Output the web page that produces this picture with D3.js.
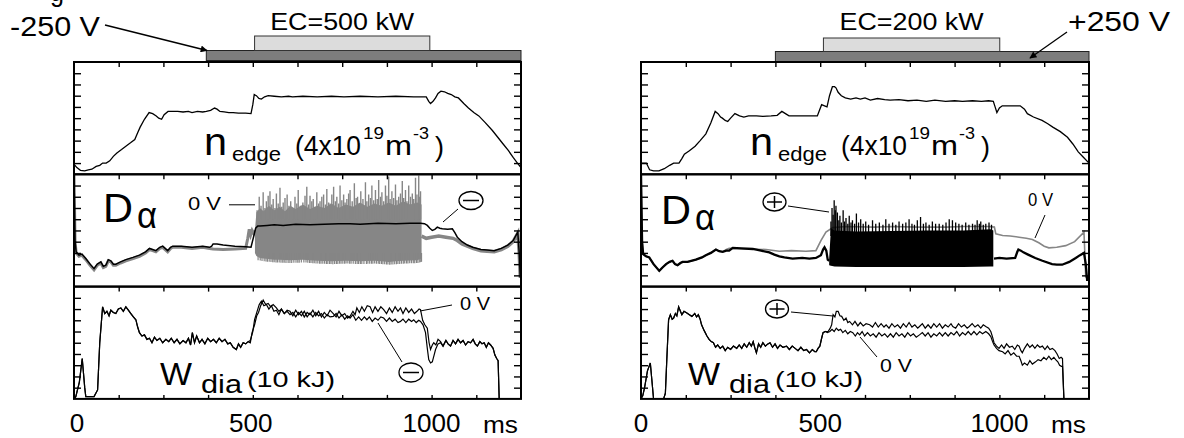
<!DOCTYPE html>
<html><head><meta charset="utf-8">
<script src="https://cdn.jsdelivr.net/npm/d3@7"></script>
<style>
body{margin:0;background:#fff;}
svg{display:block;}
text{font-family:"Liberation Sans",Arial,Helvetica,sans-serif;fill:#000;}
</style>
</head><body>
<svg id="c" width="1184" height="438"></svg>
<script>
// ---------------- DATA (time in ms, value in panel units 0..10) ----------------
const timeTickLabels = [0, 500, 1000];
const ecLabels = ["EC=500 kW", "EC=200 kW"];
const biasLabels = ["-250 V", "+250 V"];
const ecWindowLeft = [505, 995];
const ecWindowRight = [509, 1001];
const biasStartLeft = 370;
const biasStartRight = 375;

const nEdgeLeft = [[0,0.9],[8,0.6],[18,0.35],[30,0.3],[40,0.4],[50,0.45],[62,0.7],[72,0.8],[80,1.0],[90,1.0],[100,1.2],[110,1.6],[120,1.9],[133,2.2],[145,2.5],[158,2.8],[170,3.1],[178,3.7],[185,4.2],[197,4.9],[210,5.5],[220,5.4],[230,5.2],[237,5.0],[245,4.9],[252,5.3],[263,5.6],[276,5.6],[290,5.6],[305,5.55],[320,5.6],[330,5.5],[345,5.6],[360,5.55],[370,5.6],[382,5.7],[393,5.9],[400,5.8],[408,5.6],[420,5.55],[433,5.5],[445,5.5],[460,5.45],[480,5.45],[495,5.4],[500,6.2],[504,7.1],[510,7.0],[517,6.75],[524,6.7],[533,6.9],[543,7.0],[560,6.95],[580,6.9],[600,6.95],[611,6.9],[640,6.95],[680,6.9],[720,6.95],[755,6.9],[800,6.95],[850,6.9],[900,6.95],[950,6.9],[985,6.9],[992,6.5],[997,6.3],[1004,6.5],[1011,6.8],[1018,7.2],[1026,7.4],[1036,7.35],[1045,7.2],[1055,7.1],[1065,6.9],[1075,6.8],[1090,6.3],[1103,5.9],[1118,5.5],[1132,5.2],[1150,4.6],[1170,3.9],[1185,3.3],[1200,2.7],[1215,2.1],[1228,1.5],[1240,1.0],[1250,0.6]];

const nEdgeRight = [[0,1.0],[15,1.0],[24,0.4],[35,0.3],[50,0.3],[65,0.5],[80,0.8],[91,1.0],[106,1.0],[114,1.4],[121,1.8],[135,2.1],[151,2.5],[165,3.0],[181,3.6],[195,4.6],[207,5.6],[215,5.4],[222,5.1],[227,5.0],[235,4.8],[242,4.7],[250,5.0],[262,5.4],[275,5.2],[287,5.1],[300,5.2],[322,5.2],[340,5.15],[363,5.2],[380,5.25],[393,5.6],[403,5.4],[413,5.2],[440,5.2],[470,5.2],[492,5.2],[498,5.7],[504,6.2],[512,6.1],[519,6.0],[526,7.0],[534,7.8],[540,7.8],[544,7.7],[550,7.3],[559,7.0],[570,6.8],[585,6.7],[600,6.8],[612,6.7],[625,6.8],[640,6.6],[660,6.75],[680,6.65],[695,6.6],[720,6.65],[745,6.55],[770,6.6],[796,6.5],[820,6.6],[850,6.5],[875,6.55],[897,6.5],[925,6.55],[950,6.5],[970,6.55],[983,6.5],[988,6.0],[993,5.5],[1000,5.9],[1008,6.1],[1030,6.1],[1058,6.1],[1070,5.8],[1078,5.4],[1095,5.1],[1119,4.8],[1135,4.5],[1149,4.2],[1170,3.8],[1190,3.3],[1205,2.7],[1220,2.0],[1235,1.5],[1250,1.0]];

// D-alpha, left (black = -250 V, gray = 0 V)
const dAlphaLeftBias = [[0,10],[3,4],[6,3.1],[14,2.8],[22,2.9],[33,2.5],[45,2.0],[56,1.6],[65,2.0],[75,2.2],[82,1.8],[89,1.9],[96,2.4],[103,2.3],[110,2.0],[117,2.0],[130,2.2],[145,2.4],[165,2.6],[183,2.8],[200,3.1],[211,3.4],[220,3.3],[229,3.2],[240,3.5],[248,3.6],[255,3.4],[262,3.2],[270,3.5],[276,3.6],[300,3.6],[330,3.5],[360,3.6],[379,3.5],[385,3.6],[389,3.8],[400,3.8],[417,3.7],[450,3.6],[480,3.55],[495,3.5],[502,4.4],[508,5.2],[514,5.4],[520,5.4],[540,5.45],[560,5.5],[585,5.45],[620,5.55],[660,5.5],[700,5.55],[740,5.6],[772,5.6],[800,5.55],[850,5.65],[900,5.6],[940,5.65],[969,5.65],[980,5.6],[988,5.45],[995,5.2],[1002,5.0],[1009,5.1],[1016,5.3],[1023,5.2],[1030,5.15],[1045,5.1],[1058,5.15],[1065,4.8],[1072,4.4],[1085,4.0],[1100,3.7],[1115,3.5],[1138,3.3],[1155,3.25],[1175,3.2],[1195,3.4],[1213,3.7],[1228,4.1],[1241,4.85],[1245,3.0],[1248,0.8]];
const dAlphaLeftZeroPre = [[0,10],[3,4],[6,3.0],[14,2.7],[22,2.8],[33,2.4],[45,1.9],[56,1.5],[65,1.9],[75,2.1],[82,1.7],[89,1.8],[96,2.3],[103,2.2],[110,1.9],[117,1.9],[130,2.1],[145,2.3],[165,2.5],[183,2.7],[200,3.0],[211,3.3],[220,3.2],[229,3.1],[240,3.4],[248,3.5],[255,3.3],[262,3.1],[270,3.4],[276,3.5],[300,3.5],[330,3.4],[360,3.5],[379,3.4],[389,3.35],[417,3.3],[450,3.35],[480,3.4],[486,4.3],[490,5.1],[494,4.6],[498,5.0],[503,4.7],[508,5.0]];
const dAlphaLeftZeroPost = [[972,4.5],[985,4.3],[1000,4.4],[1020,4.5],[1040,4.4],[1060,4.3],[1072,4.1],[1085,3.8],[1100,3.6],[1115,3.4],[1138,3.2],[1155,3.15],[1175,3.1],[1195,3.3],[1213,3.6],[1228,4.0],[1241,4.75],[1245,3.0],[1248,0.8]];
const dAlphaLeftBurstLow = [[506,3.0],[512,2.6],[530,2.5],[560,2.4],[600,2.35],[640,2.4],[680,2.3],[720,2.25],[760,2.3],[800,2.25],[840,2.3],[880,2.2],[920,2.3],[960,2.35],[972,2.5]];
const dAlphaLeftBurstHigh = [[506,5.0],[510,6.6],[520,7.0],[530,6.7],[545,7.2],[560,6.8],[575,7.1],[590,6.7],[605,7.2],[620,6.9],[640,7.3],[660,6.9],[680,7.2],[700,7.0],[720,7.4],[740,7.0],[760,7.3],[780,7.1],[800,7.5],[820,7.1],[840,7.4],[860,7.2],[880,7.5],[900,7.2],[920,7.6],[940,7.3],[960,7.5],[972,7.3]];
const dAlphaLeftSpikes = [[512,6.8],[518,8.0],[523,7.2],[529,8.4],[534,7.0],[538,7.6],[543,8.1],[548,8.5],[553,7.3],[557,7.8],[562,7.0],[566,8.3],[571,7.4],[576,8.8],[581,7.1],[585,7.5],[590,7.9],[596,8.2],[601,7.2],[606,7.6],[612,7.0],[618,8.0],[623,7.4],[627,8.6],[633,7.2],[640,7.5],[646,8.1],[651,8.9],[656,7.3],[660,8.1],[665,7.6],[669,7.8],[674,7.1],[679,8.4],[684,7.4],[688,7.6],[693,8.0],[698,8.2],[703,7.3],[707,8.7],[712,7.5],[716,7.4],[721,8.2],[726,8.9],[731,7.6],[735,8.0],[740,7.4],[744,9.0],[749,7.7],[754,8.2],[758,7.5],[763,7.8],[768,8.3],[772,8.6],[778,7.6],[784,9.2],[789,7.9],[793,8.0],[798,7.4],[802,8.5],[808,7.8],[815,9.3],[819,7.6],[824,8.2],[829,7.9],[833,9.0],[838,7.7],[843,8.6],[848,7.8],[852,9.5],[857,8.0],[861,8.4],[866,7.6],[871,9.0],[875,8.1],[880,9.8],[884,7.8],[889,8.5],[894,7.9],[899,9.1],[903,7.7],[908,8.0],[913,8.3],[918,9.4],[922,7.9],[927,8.6],[931,7.6],[936,9.0],[941,8.0],[946,8.3],[950,7.8],[955,9.7],[959,8.2],[964,9.9],[967,8.0],[969,8.5]];

// D-alpha, right (black = +250 V, gray = 0 V)
const dAlphaRightZero = [[0,10],[3,4],[6,2.9],[14,2.7],[23,2.6],[35,2.0],[51,1.4],[60,1.7],[70,2.0],[80,2.2],[88,2.3],[95,2.0],[102,1.9],[110,2.1],[116,2.2],[130,2.2],[153,2.4],[170,2.6],[181,2.8],[195,3.0],[209,3.3],[218,3.15],[228,3.1],[238,3.3],[246,3.4],[256,3.4],[300,3.35],[349,3.3],[386,3.15],[420,3.2],[460,3.15],[488,3.2],[502,4.1],[516,4.85],[535,5.25],[572,5.35],[650,5.3],[700,5.35],[776,5.3],[850,5.3],[900,5.35],[972,5.35],[986,5.3],[990,4.7],[1009,4.55],[1030,4.5],[1055,4.4],[1075,4.3],[1092,4.2],[1110,3.9],[1125,3.6],[1138,3.45],[1160,3.5],[1185,3.65],[1210,4.0],[1236,4.85],[1241,0.8]];
const dAlphaRightBiasPre = [[0,10],[3,4],[6,2.9],[14,2.7],[23,2.6],[35,2.0],[51,1.4],[60,1.7],[70,2.0],[80,2.2],[88,2.3],[95,2.0],[102,1.9],[110,2.1],[116,2.2],[130,2.2],[153,2.4],[170,2.6],[181,2.8],[195,3.0],[209,3.3],[218,3.15],[228,3.1],[238,3.2],[246,3.2],[256,3.45],[280,3.4],[312,3.35],[335,3.2],[358,3.05],[372,2.85],[386,2.7],[400,2.6],[423,2.5],[450,2.55],[470,2.5],[488,2.55],[502,2.8],[508,3.3],[512,3.5],[517,3.2],[521,2.4],[525,2.3]];
const dAlphaRightBiasPost = [[985,2.5],[1000,2.55],[1020,2.5],[1044,2.55],[1050,3.1],[1053,3.3],[1060,3.2],[1067,3.05],[1080,2.85],[1100,2.55],[1120,2.3],[1147,2.0],[1160,1.95],[1175,1.95],[1195,2.2],[1213,2.55],[1225,2.8],[1236,3.0],[1241,2.0],[1245,0.5]];
const dAlphaRightBurstLow = [[525,1.9],[540,1.8],[600,1.75],[700,1.75],[800,1.75],[900,1.75],[983,1.8]];
const dAlphaRightBurstHigh = [[525,2.5],[530,5.2],[540,5.0],[600,4.9],[700,4.95],[800,5.0],[900,5.0],[975,5.1],[983,5.0]];
const dAlphaRightSpikes = [[530,5.8],[533,7.0],[536,6.4],[539,7.7],[542,6.8],[544,7.2],[548,6.6],[552,5.9],[555,6.3],[559,5.7],[564,6.8],[568,5.8],[572,6.1],[577,5.6],[581,6.3],[586,5.7],[590,5.9],[596,5.6],[601,6.5],[607,5.7],[613,6.0],[620,5.6],[627,5.8],[635,5.5],[646,5.9],[655,5.6],[665,5.7],[675,5.5],[683,6.0],[692,5.6],[702,5.7],[711,5.5],[720,5.8],[730,5.6],[739,5.7],[748,6.0],[756,5.6],[763,5.5],[771,5.9],[780,6.2],[788,5.6],[795,5.7],[804,5.5],[813,5.8],[822,5.6],[832,5.6],[842,5.5],[851,5.7],[860,6.0],[869,5.9],[878,5.7],[887,5.6],[896,5.5],[906,5.7],[915,5.5],[925,5.6],[932,5.5],[938,5.9],[944,5.6],[948,5.8],[955,5.5],[962,5.6],[971,5.7],[978,5.5]];

// W_dia, left
const wDiaLeftEarly = [[0,0],[5,0.2],[15,1.5],[23,3.6],[30,1.0],[33,0.2],[56,0.2],[66,0.8],[72,5],[80,8.2],[86,7.6],[92,7.8],[98,7.4],[103,7.9],[110,7.7],[117,7.6],[124,8.0],[131,8.1],[138,7.8],[145,8.2],[152,7.9],[159,7.6],[166,7.3],[173,7.05],[178,6.4],[183,5.9],[190,5.6],[197,5.7],[204,5.3],[211,5.4],[218,5.0],[225,5.5],[232,5.2],[240,5.4],[248,5.0],[257,5.3],[265,5.1],[272,5.4],[280,5.0],[288,5.3],[296,4.9],[305,5.2],[313,5.0],[320,5.4],[326,4.8],[331,5.9],[337,5.0],[343,5.6],[351,5.0],[358,5.3],[366,4.9],[374,5.4],[382,5.1],[390,5.3],[398,5.0],[406,5.4],[414,5.1],[422,5.3],[430,4.9],[437,5.0],[445,4.6],[454,4.4],[460,4.9],[466,4.6],[473,5.0],[480,4.9],[487,5.1]];
const wDiaLeftZeroMid = [[493,5.2],[500,6.0],[505,7.05],[512,7.8],[518,8.4],[524,8.7],[531,8.3],[538,8.4],[545,8.0],[552,8.3],[559,7.8],[566,7.9],[573,7.5],[580,8.0],[588,7.6],[596,7.9],[604,7.8],[612,7.4],[620,7.9],[628,7.5],[636,7.8],[644,7.3],[652,7.7],[660,7.5],[668,7.9],[676,7.4],[684,7.8],[692,7.3],[700,7.7],[708,7.4],[716,7.9],[725,7.6],[733,7.3],[741,7.8],[749,7.4],[757,7.6],[765,7.2],[772,7.35],[780,7.8],[786,7.5],[791,8.1],[798,7.7],[805,8.2],[812,7.8],[820,8.3],[828,8.2],[835,7.7],[842,8.2],[850,7.8],[858,8.2],[866,7.95],[874,7.6],[882,8.1],[890,7.7],[898,8.2],[906,7.8],[913,8.1],[920,7.6],[928,8.1],[936,7.7],[944,8.0],[952,7.6],[959,7.8],[965,8.0],[969,7.95],[975,7.0],[981,6.6],[988,6.3],[993,5.0],[997,4.4],[1002,4.8],[1006,5.0],[1012,4.8],[1018,5.3],[1025,5.1]];
const wDiaLeftBiasMid = [[493,5.0],[498,5.9],[505,6.6],[511,7.4],[516,7.7],[522,8.3],[529,8.8],[536,8.4],[543,8.5],[550,8.2],[557,8.4],[566,8.1],[573,7.8],[580,8.0],[588,7.6],[596,7.8],[604,7.5],[612,7.7],[620,7.3],[628,7.7],[636,7.4],[644,7.8],[652,7.3],[660,7.65],[668,7.3],[676,7.7],[684,7.4],[692,7.6],[700,7.2],[708,7.5],[716,7.3],[725,7.35],[733,7.6],[741,7.2],[749,7.5],[757,7.1],[765,7.4],[772,7.2],[780,7.5],[788,7.0],[796,7.3],[804,7.0],[812,7.3],[819,7.05],[826,7.3],[834,6.9],[842,7.2],[850,7.0],[858,7.3],[866,7.2],[874,6.9],[882,7.2],[890,6.9],[898,7.1],[906,6.8],[913,6.9],[920,7.1],[928,6.8],[936,7.1],[944,6.9],[950,7.05],[957,6.8],[964,7.0],[969,6.9],[976,6.6],[983,5.9],[988,4.5],[992,3.5],[997,3.2],[1002,3.3],[1007,3.9],[1011,4.4],[1018,4.9],[1025,5.0]];
const wDiaLeftLate = [[1032,4.7],[1040,5.2],[1046,4.9],[1053,4.7],[1060,5.2],[1067,4.9],[1074,5.3],[1081,5.0],[1088,5.2],[1095,4.8],[1102,5.1],[1109,5.0],[1116,5.3],[1122,4.9],[1128,4.7],[1135,5.1],[1141,4.9],[1147,5.0],[1153,4.6],[1159,5.0],[1165,4.8],[1172,4.5],[1177,3.9],[1182,3.6],[1186,3.4],[1189,0]];

// W_dia, right
const wDiaRightEarly = [[0,0],[5,0.3],[10,1.0],[18,2.5],[26,3.2],[30,1.8],[35,0],[63,0],[68,0.5],[72,3.5],[77,7.05],[82,7.5],[87,7.1],[91,7.2],[96,7.6],[100,7.4],[105,8.2],[110,7.8],[114,7.5],[120,7.8],[128,7.65],[135,7.5],[142,7.35],[150,7.6],[155,7.3],[160,7.5],[165,7.1],[169,6.6],[176,6.1],[184,5.6],[190,5.3],[196,5.1],[202,5.0],[208,4.6],[214,4.8],[221,4.5],[228,4.7],[235,4.3],[242,4.6],[250,4.4],[258,4.7],[267,4.5],[274,4.8],[281,4.5],[288,4.9],[295,4.6],[302,5.0],[308,4.7],[313,5.1],[318,4.5],[322,4.1],[328,4.9],[334,4.6],[340,5.0],[347,4.7],[354,4.9],[360,5.0],[367,4.6],[374,4.9],[381,4.5],[388,4.8],[396,4.6],[406,4.7],[414,4.4],[422,4.7],[430,4.5],[438,4.3],[446,4.6],[454,4.3],[462,4.4],[470,4.1],[478,4.4],[485,4.2],[489,4.2],[494,4.5],[499,4.7],[504,5.4],[508,5.9]];
const wDiaRightBias = [[514,6.0],[522,6.0],[528,6.3],[532,6.6],[536,7.5],[541,7.3],[545,7.8],[550,7.8],[555,7.4],[560,7.35],[566,7.0],[572,7.2],[577,6.8],[582,6.9],[590,6.6],[597,6.9],[605,6.5],[612,6.8],[620,6.5],[628,6.7],[638,6.6],[646,6.4],[654,6.8],[662,6.4],[670,6.7],[678,6.4],[684,6.6],[692,6.3],[700,6.7],[708,6.4],[716,6.6],[724,6.3],[732,6.7],[740,6.4],[748,6.8],[756,6.4],[764,6.6],[772,6.3],[777,6.45],[785,6.7],[793,6.3],[801,6.6],[809,6.3],[817,6.7],[825,6.4],[833,6.7],[841,6.3],[849,6.6],[857,6.4],[865,6.7],[870,6.45],[878,6.3],[886,6.7],[894,6.4],[902,6.6],[910,6.3],[916,6.45],[924,6.7],[932,6.4],[940,6.6],[948,6.3],[955,6.6],[962,6.45],[970,6.3],[976,6.0],[981,5.5],[985,5.0],[992,4.7],[999,4.5],[1006,4.8],[1013,4.5],[1020,4.9],[1028,4.6],[1036,4.7],[1043,4.4],[1050,4.8],[1055,4.7],[1060,4.3],[1064,4.1],[1070,4.5],[1078,4.9],[1085,4.6],[1092,4.8],[1099,4.5],[1106,4.8],[1113,4.6],[1120,4.7],[1127,4.4],[1134,4.7],[1141,4.4],[1148,4.5],[1155,4.3],[1161,4.0],[1167,3.6],[1172,3.7],[1176,3.6],[1180,0]];
const wDiaRightZero = [[514,6.0],[520,5.9],[527,6.0],[533,6.2],[539,6.0],[545,6.3],[551,6.1],[557,6.2],[563,5.9],[570,6.1],[577,5.8],[584,6.0],[591,5.9],[598,5.6],[604,5.9],[610,5.7],[617,6.0],[624,5.6],[632,5.9],[640,5.6],[648,5.8],[656,5.5],[664,5.9],[672,5.6],[680,5.8],[688,5.5],[696,5.8],[704,5.5],[712,5.9],[720,5.6],[728,5.8],[736,5.5],[744,5.9],[752,5.6],[760,5.8],[768,5.5],[777,5.7],[785,5.9],[793,5.6],[801,5.9],[809,5.5],[817,5.8],[825,5.6],[833,5.9],[841,5.6],[849,5.9],[857,5.6],[865,5.9],[873,5.7],[881,6.0],[889,5.6],[897,5.9],[905,5.7],[913,6.0],[921,5.7],[929,6.0],[937,5.7],[945,6.0],[953,5.8],[962,6.0],[970,5.8],[976,5.55],[981,5.1],[985,4.8],[992,4.5],[999,4.3],[1009,4.2],[1016,4.0],[1024,4.3],[1032,3.9],[1040,4.1],[1048,3.8],[1055,3.8],[1060,3.4],[1064,3.0],[1070,3.2],[1078,3.0],[1085,3.4],[1092,3.1],[1101,3.3],[1108,3.5],[1116,3.4],[1124,3.7],[1131,3.5],[1138,3.8],[1145,3.5],[1152,3.7],[1157,3.5],[1163,3.3],[1168,3.0],[1173,2.9],[1176,2.9],[1180,0]];

// ---------------- LAYOUT ----------------
const svg = d3.select("#c");
const GRAY = "#868686";
const panelTops = [62, 174.3, 286.6];
const panelH = 112.3;
const domainMs = [0, 1250];

function label(g, x, y, str, size, w, anchor) {
  const t = g.append("text").attr("x", x).attr("y", y)
    .attr("font-size", size).attr("text-anchor", anchor || "start").text(str);
  if (w) t.attr("textLength", w).attr("lengthAdjust", "spacingAndGlyphs");
  return t;
}

const sides = [
  {
    id: "L", x0: 74, x1: 521,
    ecWin: ecWindowLeft, biasStart: biasStartLeft, ecLabel: ecLabels[0],
    barY: 50.5, boxY: 36,
    nEdge: nEdgeLeft,
    tickDx: [3, -2, 0],
    lab: {n: 204, D: 103, Dy: 222, W: 160},
  },
  {
    id: "R", x0: 641, x1: 1089,
    ecWin: ecWindowRight, biasStart: biasStartRight, ecLabel: ecLabels[1],
    barY: 51.5, boxY: 38,
    nEdge: nEdgeRight,
    tickDx: [0, 0, 0],
    lab: {n: 750, D: 661, Dy: 224, W: 688},
  }
];

const defs = svg.append("defs");
defs.append("marker").attr("id", "arr").attr("viewBox", "0 0 10 10")
  .attr("refX", 9).attr("refY", 5).attr("markerWidth", 9).attr("markerHeight", 7)
  .attr("markerUnits", "userSpaceOnUse").attr("orient", "auto")
  .append("path").attr("d", "M0,0 L10,5 L0,10 Z").attr("fill", "#000");

sides.forEach(s => {
  const x = d3.scaleLinear().domain(domainMs).range([s.x0, s.x1]);
  const ys = panelTops.map(t => d3.scaleLinear().domain([0, 10]).range([t + panelH, t]));
  const g = svg.append("g");
  const line = y => d3.line().x(d => x(d[0])).y(d => y(d[1]));

  // header bars
  g.append("rect").attr("x", x(s.biasStart)).attr("y", s.barY)
    .attr("width", x(1250) - x(s.biasStart)).attr("height", 10)
    .attr("fill", "#7d7d7d").attr("stroke", "#222").attr("stroke-width", 1);
  g.append("rect").attr("x", x(s.ecWin[0])).attr("y", s.boxY)
    .attr("width", x(s.ecWin[1]) - x(s.ecWin[0])).attr("height", s.barY - s.boxY)
    .attr("fill", "#dcdcdc").attr("stroke", "#333").attr("stroke-width", 1);

  ys.forEach((y, i) => {
    defs.append("clipPath").attr("id", `clip${s.id}${i}`).append("rect")
      .attr("x", s.x0).attr("y", panelTops[i]).attr("width", s.x1 - s.x0).attr("height", panelH);
  });
  const pg = i => g.append("g").attr("clip-path", `url(#clip${s.id}${i})`);

  // ---- Panel 1: n_edge
  pg(0).append("path").datum(s.nEdge).attr("d", line(ys[0]))
    .attr("fill", "none").attr("stroke", "#000").attr("stroke-width", 1.3);

  // ---- Panel 2: D alpha
  const p2 = pg(1), y2 = ys[1];
  const area = d3.area().x(d => x(d[0])).y0(d => y2(d[1])).y1(d => y2(d[2]));
  if (s.id === "L") {
    p2.append("path").datum(dAlphaLeftZeroPre).attr("d", line(y2)).attr("fill", "none").attr("stroke", GRAY).attr("stroke-width", 3);
    p2.append("path").datum(dAlphaLeftZeroPost).attr("d", line(y2)).attr("fill", "none").attr("stroke", GRAY).attr("stroke-width", 3.5);
    const lowL = d3.scaleLinear().domain(dAlphaLeftBurstLow.map(d => d[0])).range(dAlphaLeftBurstLow.map(d => d[1]));
    const bandL = dAlphaLeftBurstHigh.map(d => [d[0], lowL(d[0]), d[1]]);
    p2.append("path").datum(bandL).attr("d", area).attr("fill", GRAY);
    p2.selectAll("line.sp").data(dAlphaLeftSpikes).join("line").attr("class", "sp")
      .attr("x1", d => x(d[0])).attr("x2", d => x(d[0]))
      .attr("y1", y2(6)).attr("y2", d => y2(d[1]))
      .attr("stroke", GRAY).attr("stroke-width", 1.4);
    p2.selectAll("line.lo").data(dAlphaLeftSpikes).join("line").attr("class", "lo")
      .attr("x1", d => x(d[0]) + 1).attr("x2", d => x(d[0]) + 1)
      .attr("y1", y2(3)).attr("y2", d => y2(lowL(d[0]) - 0.25))
      .attr("stroke", GRAY).attr("stroke-width", 1.2);
    p2.append("path").datum(dAlphaLeftBias).attr("d", line(y2)).attr("fill", "none").attr("stroke", "#000").attr("stroke-width", 1.5);
  } else {
    p2.append("path").datum(dAlphaRightZero).attr("d", line(y2)).attr("fill", "none").attr("stroke", GRAY).attr("stroke-width", 1.6);
    const lowR = d3.scaleLinear().domain(dAlphaRightBurstLow.map(d => d[0])).range(dAlphaRightBurstLow.map(d => d[1]));
    const bandR = dAlphaRightBurstHigh.map(d => [d[0], lowR(d[0]), d[1]]);
    p2.append("path").datum(bandR).attr("d", area).attr("fill", "#000");
    p2.selectAll("line.sp").data(dAlphaRightSpikes).join("line").attr("class", "sp")
      .attr("x1", d => x(d[0])).attr("x2", d => x(d[0]))
      .attr("y1", y2(4.5)).attr("y2", d => y2(d[1]))
      .attr("stroke", "#000").attr("stroke-width", 1.3);
    p2.append("path").datum(dAlphaRightBiasPre).attr("d", line(y2)).attr("fill", "none").attr("stroke", "#000").attr("stroke-width", 2.3);
    p2.append("path").datum(dAlphaRightBiasPost).attr("d", line(y2)).attr("fill", "none").attr("stroke", "#000").attr("stroke-width", 2.3);
  }

  // ---- Panel 3: W_dia
  const p3 = pg(2), y3 = ys[2];
  const wTraces = s.id === "L"
    ? [wDiaLeftEarly.concat(wDiaLeftZeroMid, wDiaLeftLate), wDiaLeftEarly.concat(wDiaLeftBiasMid, wDiaLeftLate)]
    : [wDiaRightEarly.concat(wDiaRightZero), wDiaRightEarly.concat(wDiaRightBias)];
  wTraces.forEach(tr => p3.append("path").datum(tr).attr("d", line(y3))
    .attr("fill", "none").attr("stroke", "#000").attr("stroke-width", 1.2));

  // ---- ticks and frames
  const inner = d3.range(1, 10);
  const xt = d3.range(125, 1250, 125);
  ys.forEach((y, i) => {
    const top = panelTops[i];
    const a1 = g.append("g").attr("transform", `translate(${s.x0},0)`).call(d3.axisLeft(y).tickValues(inner).tickSize(-7).tickFormat(""));
    const a2 = g.append("g").attr("transform", `translate(${s.x1},0)`).call(d3.axisRight(y).tickValues(inner).tickSize(-7).tickFormat(""));
    const a3 = g.append("g").attr("transform", `translate(0,${top})`).call(d3.axisTop(x).tickValues(xt).tickSize(-5).tickFormat(""));
    [a1, a2, a3].forEach(a => { a.select(".domain").remove(); a.selectAll("line").attr("stroke-width", 1.4); });
    g.append("rect").attr("x", s.x0).attr("y", top).attr("width", s.x1 - s.x0).attr("height", panelH)
      .attr("fill", "none").attr("stroke", "#000").attr("stroke-width", 2);
  });
  const ab = g.append("g").attr("transform", `translate(0,${panelTops[2] + panelH})`)
    .call(d3.axisBottom(x).tickValues(xt).tickSize(-4).tickFormat(""));
  ab.select(".domain").remove(); ab.selectAll("line").attr("stroke-width", 1.4);

  // tick labels (centred on their ticks)
  timeTickLabels.forEach((t, i) => {
    const str = String(t);
    label(g, x(t) + s.tickDx[i], 432, str, 25, str.length * 14.5, "middle");
  });
  label(g, x(1250) - 38, 433, "ms", 24, 35);

  // EC label
  label(g, (x(s.ecWin[0]) + x(s.ecWin[1])) / 2, 30, s.ecLabel, 23, 144, "middle");

  // panel labels
  const L = s.lab, dx = L.n - 204;
  label(g, L.n, 155, "n", 38, 23);
  label(g, 232 + dx, 161, "edge", 21, 49);
  label(g, 295 + dx, 155, "(4x10", 28, 66);
  label(g, 363 + dx, 139, "19", 17, 21);
  label(g, 385 + dx, 155, "m", 28, 27);
  label(g, 413 + dx, 139, "-3", 17, 16);
  label(g, 435 + dx, 156, ")", 28, 9);

  label(g, L.D, L.Dy, "D", 40, 30);
  label(g, L.D + 34, L.Dy + 6, "\u03b1", 36, 20);

  const wdx = L.W - 160;
  label(g, L.W, 385, "W", 32, 32);
  label(g, 201 + wdx, 393, "dia", 25, 41);
  label(g, 247 + wdx, 387, "(10 kJ)", 22, 88);
});

// ---------------- ANNOTATIONS ----------------
const ann = svg.append("g");
const seg = (x1, y1, x2, y2, w, mk) => {
  const l = ann.append("line").attr("x1", x1).attr("y1", y1).attr("x2", x2).attr("y2", y2)
    .attr("stroke", "#000").attr("stroke-width", w || 1);
  if (mk) l.attr("marker-end", "url(#arr)");
};
const sign = (cx, cy, rx, ry, plus) => {
  ann.append("ellipse").attr("cx", cx).attr("cy", cy).attr("rx", rx).attr("ry", ry)
    .attr("fill", "#fff").attr("stroke", "#000").attr("stroke-width", 1.3);
  seg(cx - rx + 4, cy, cx + rx - 4, cy, 1.5);
  if (plus) seg(cx, cy - ry + 3, cx, cy + ry - 3, 1.5);
};

// fragment of the caption line above the figure (cut off in the original)
label(ann, 50, 1, "g", 27, 14);

// bias labels with arrows
label(ann, 10, 36, biasLabels[0], 27, 90);
seg(105, 25, 207, 50.5, 1.3, true);
label(ann, 1068, 31, biasLabels[1], 27, 102);
seg(1067, 32, 1030, 58, 1.3, true);

// left D alpha
label(ann, 188, 210, "0 V", 18, 33);
seg(229, 204.8, 255, 204.8, 1);
sign(471, 200.5, 12, 9, false);
seg(458, 209, 443, 222, 1);
// left W
label(ann, 460, 310, "0 V", 18, 30);
seg(420, 311, 452, 305, 1);
sign(411, 372.5, 12, 9.5, false);
seg(402, 362, 378, 323, 1);
// right D alpha
sign(774.5, 202, 11.5, 9, true);
seg(788, 206, 829, 212, 1);
label(ann, 1028, 206, "0 V", 18, 25);
seg(1045, 215, 1035, 238, 1);
// right W
sign(777, 309, 11.5, 9, true);
seg(791, 312, 833, 316, 1);
label(ann, 880, 372, "0 V", 18, 32);
seg(860, 337, 877, 357, 1);
</script>
</body></html>
